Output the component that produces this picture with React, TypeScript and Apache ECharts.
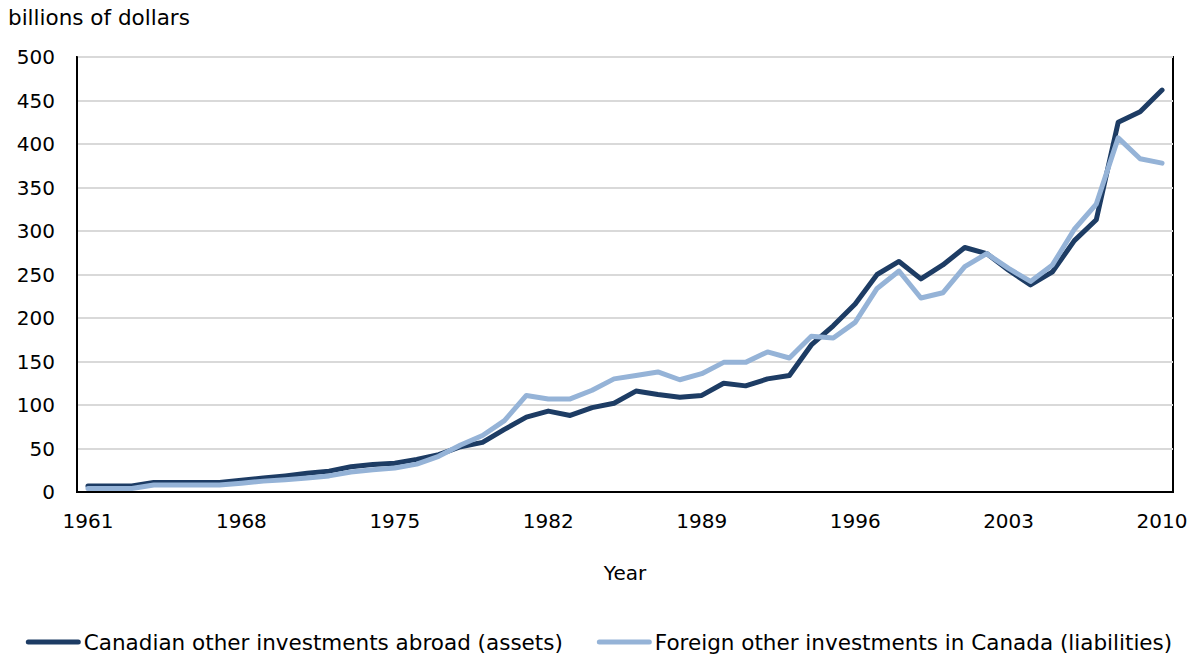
import React, { useEffect, useRef } from "react";
import * as echarts from "echarts";

const years: string[] = [];
for (let y = 1961; y <= 2010; y++) years.push(String(y));

const assets = [
  7, 7, 7, 11, 11, 11, 11, 13.5, 16, 18.5,
  21.5, 24, 29, 31.5, 33, 37.5, 43, 52, 57, 72,
  86, 93, 88, 97, 102, 116, 112, 109, 111, 125,
  122, 130, 134, 169, 191, 216, 250, 265, 245, 261,
  281, 274, 255, 238, 253, 289, 313, 425, 437, 462,
];

const liabilities = [
  4, 4, 4, 8, 8, 8, 8, 10, 12.5, 14,
  16, 18.5, 23, 25.5, 27.5, 32, 41, 54, 65, 82,
  111, 107, 107, 117, 130, 134, 138, 129, 136, 149,
  149, 161, 154, 179, 177, 195, 234, 254, 223, 229,
  259, 274, 257, 242, 261, 302, 331, 407, 383, 378,
];

const seriesNames = [
  "Canadian other investments abroad (assets)",
  "Foreign other investments in Canada (liabilities)",
];

const FONT = "'DejaVu Sans', Verdana, sans-serif";
const LEGEND_ICON = "path://M2.5,0 L52.5,0 A2.5,2.5 0 0 1 52.5,5 L2.5,5 A2.5,2.5 0 0 1 2.5,0 Z";

export default function App() {
  const ref = useRef<HTMLDivElement>(null);
  useEffect(() => {
    if (!ref.current) return;
    const chart = echarts.init(ref.current, null, { renderer: "svg" });
    chart.setOption({
      animation: false,
      textStyle: { fontFamily: FONT, color: "#000" },
      graphic: [
        {
          type: "text",
          left: 8,
          top: 6,
          style: { text: "billions of dollars", font: `21.5px ${FONT}`, fill: "#000" },
        },
      ],
      grid: {
        left: 77,
        top: 57,
        right: 25,
        bottom: 164,
        show: true,
        borderColor: "#000",
        borderWidth: 2,
        containLabel: false,
      },
      legend: {
        data: seriesNames.map((n) => ({ name: n, icon: LEGEND_ICON })),
        left: "center",
        top: 626,
        itemWidth: 55,
        itemHeight: 5,
        itemGap: 34,
        textStyle: { fontFamily: FONT, fontSize: 21.5, color: "#000", padding: [0, 0, 0, -2] },
      },
      xAxis: {
        type: "category",
        data: years,
        boundaryGap: true,
        name: "Year",
        nameLocation: "middle",
        nameGap: 71,
        nameTextStyle: { fontFamily: FONT, fontSize: 20, color: "#000" },
        axisLine: { lineStyle: { color: "#000", width: 2 } },
        axisTick: { show: false },
        axisLabel: {
          interval: 6,
          margin: 19,
          fontFamily: FONT,
          fontSize: 20,
          color: "#000",
        },
        splitLine: { show: false },
      },
      yAxis: {
        type: "value",
        min: 0,
        max: 500,
        interval: 50,
        axisLine: { show: true, lineStyle: { color: "#000", width: 2 } },
        axisTick: { show: false },
        axisLabel: { margin: 22, fontFamily: FONT, fontSize: 20, color: "#000" },
        splitLine: { lineStyle: { color: "#d9d9d9", width: 2 } },
      },
      series: [
        {
          name: seriesNames[0],
          type: "line",
          data: assets,
          symbol: "none",
          lineStyle: { color: "#1d3c64", width: 5, cap: "round", join: "round" },
          itemStyle: { color: "#1d3c64" },
        },
        {
          name: seriesNames[1],
          type: "line",
          data: liabilities,
          symbol: "none",
          lineStyle: { color: "#95b3d7", width: 5, cap: "round", join: "round" },
          itemStyle: { color: "#95b3d7" },
        },
      ],
    });
    return () => chart.dispose();
  }, []);
  return <div ref={ref} style={{ width: 1198, height: 656, position: "absolute", left: 0, top: 0 }} />;
}
